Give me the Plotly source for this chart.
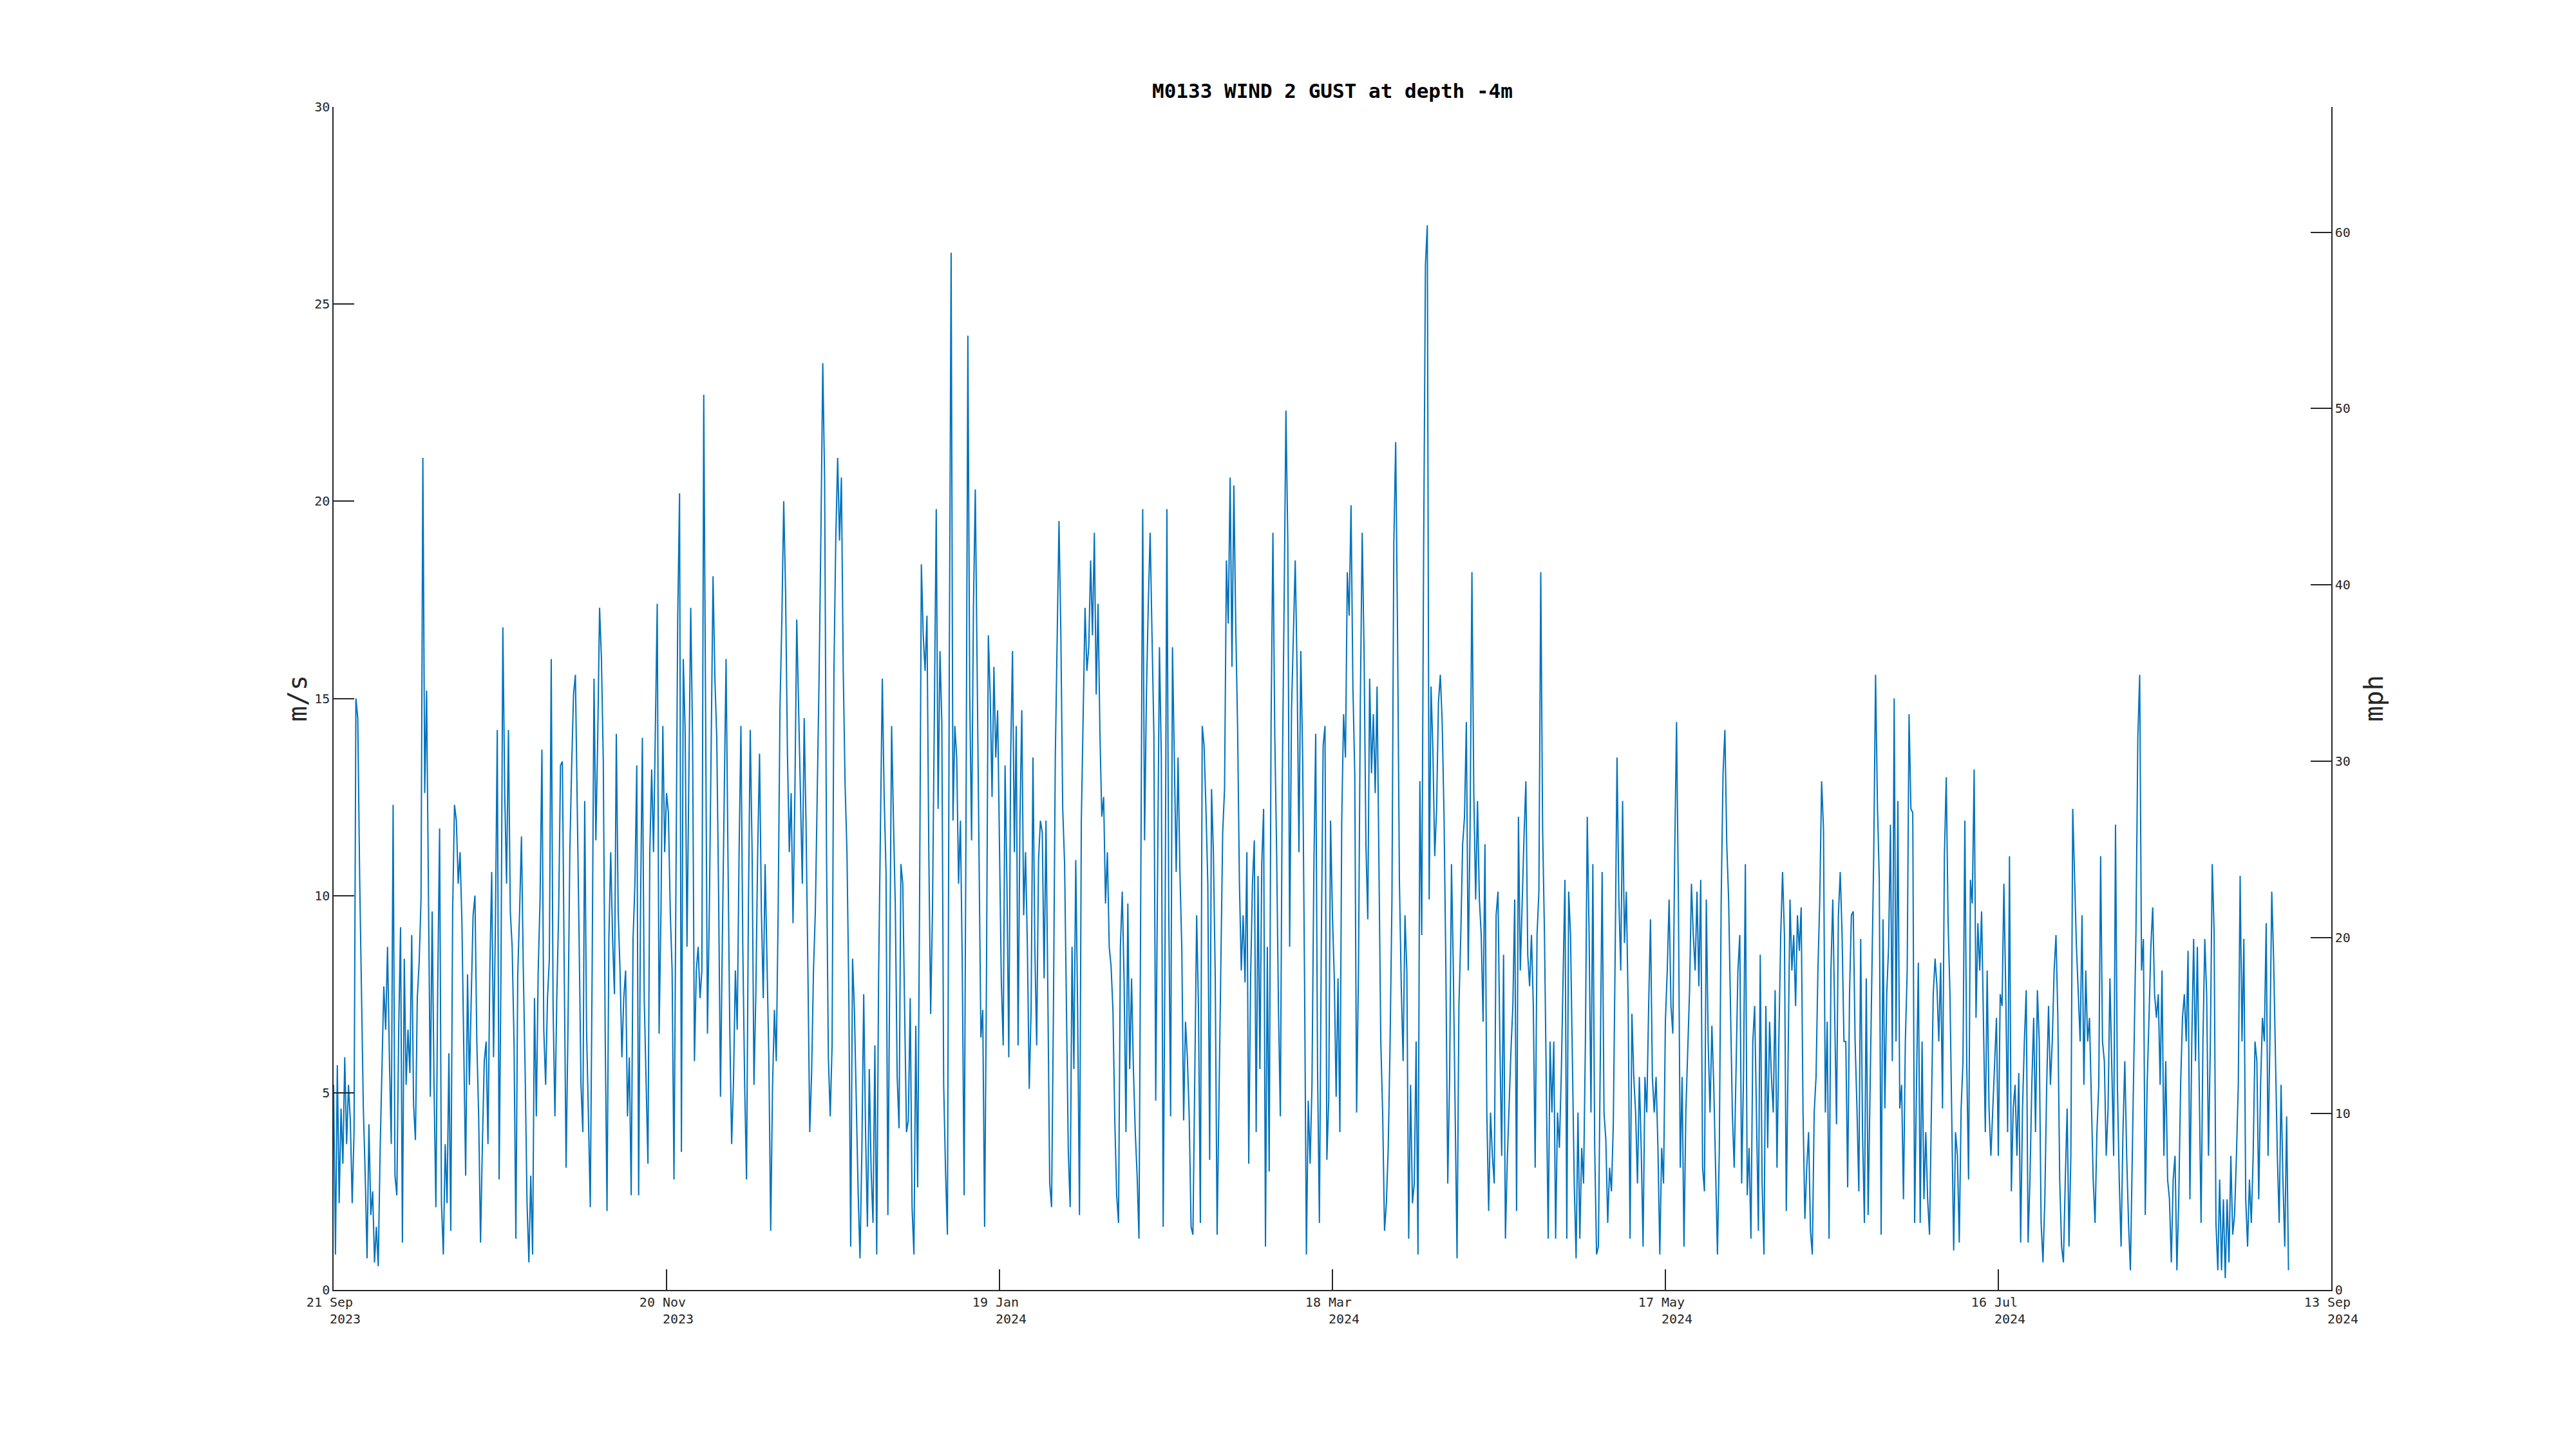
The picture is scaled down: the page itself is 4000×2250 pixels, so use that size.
import pandas as pd
import plotly.graph_objects as go

TITLE = "M0133 WIND 2 GUST at depth -4m"
START = "2023-09-21 16:00"      # first sample (left edge of the axis)
STEP_HOURS = 8                  # sampling step of the values below
AXIS_DAYS = 358                 # 21 Sep 2023 -> 13 Sep 2024
MS_TO_MPH = 2.23694

x_tick_labels = ["21 Sep", "20 Nov", "19 Jan", "18 Mar", "17 May", "16 Jul", "13 Sep"]
x_tick_years = ["2023", "2023", "2024", "2024", "2024", "2024", "2024"]
ms_ticks = [0, 5, 10, 15, 20, 25, 30]
mph_ticks = [0, 10, 20, 30, 40, 50, 60]

# wind gust (m/s), 3 readings per day, 21 Sep -> 19 Dec 2023
gust_autumn = [
    5.2, 0.9, 5.7, 2.2, 4.6, 3.2, 5.9, 3.7, 5.2, 4.3, 2.2, 4.0, 15.0, 14.5, 10.5,
    7.7, 4.6, 2.9, 0.8, 4.2, 1.9, 2.5, 0.7, 1.6, 0.6, 3.5, 5.8, 7.7, 6.6, 8.7,
    5.9, 3.7, 12.3, 2.9, 2.4, 6.6, 9.2, 1.2, 8.4, 5.2, 6.6, 5.5, 9.0, 4.7, 3.8,
    7.4, 8.3, 9.9, 21.1, 12.6, 15.2, 10.2, 4.9, 9.6, 5.2, 2.1, 7.8, 11.7, 2.2, 0.9,
    3.7, 2.2, 6.0, 1.5, 9.6, 12.3, 11.9, 10.3, 11.1, 9.3, 5.9, 2.9, 8.0, 5.2, 7.4,
    9.5, 10.0, 6.3, 4.4, 1.2, 3.7, 5.8, 6.3, 3.7, 8.1, 10.6, 5.9, 9.3, 14.2, 2.8,
    8.1, 16.8, 12.6, 10.3, 14.2, 9.6, 8.7, 6.3, 1.3, 8.0, 9.6, 11.5, 8.1, 5.5, 2.2,
    0.7, 2.9, 0.9, 7.4, 4.4, 8.1, 9.9, 13.7, 6.6, 5.2, 7.4, 8.4, 16.0, 7.2, 4.4,
    7.4, 9.6, 13.3, 13.4, 8.1, 3.1, 6.6, 11.1, 13.3, 15.1, 15.6, 12.6, 8.9, 5.2, 4.0,
    12.4, 6.6, 4.4, 2.1, 8.1, 15.5, 11.4, 14.0, 17.3, 16.0, 13.4, 6.6, 2.0, 8.9, 11.1,
    8.9, 7.5, 14.1, 9.6, 8.1, 5.9, 7.4, 8.1, 4.4, 5.9, 2.4, 8.9, 10.3, 13.3, 2.4,
    9.6, 14.0, 7.4, 5.2, 3.2, 11.1, 13.2, 11.1, 14.0, 17.4, 6.5, 9.6, 14.3, 11.1, 12.6,
    12.1, 9.6, 8.1, 2.8, 10.2, 17.0, 20.2, 3.5, 16.0, 14.2, 8.7, 12.6, 17.3, 14.0, 5.8,
    8.1, 8.7, 7.4, 8.1, 22.7, 15.5, 6.5, 9.6, 14.0, 18.1, 15.5, 14.0, 10.0, 4.9, 8.9,
    12.6, 16.0, 11.1, 6.6, 3.7, 5.3, 8.1, 6.6, 11.1, 14.3, 8.7, 5.2, 2.8, 9.6, 14.2,
    11.1, 5.2, 7.5, 11.1, 13.6, 9.6, 7.4, 10.8, 8.1, 5.9, 1.5, 5.2, 7.1, 5.8, 9.6,
    14.8, 17.0, 20.0, 17.7, 13.6, 11.1, 12.6, 9.3, 12.6, 17.0, 14.8, 12.6, 10.3, 14.5, 11.8,
    8.1, 4.0, 5.5, 8.1, 9.6, 12.3, 15.5, 19.2, 23.5, 20.5, 11.1, 5.9, 4.4, 6.2, 15.7,
]

# 20 Dec 2023 -> 18 Mar 2024
gust_winter = [
    19.1, 21.1, 19.0, 20.6, 15.7, 12.8, 11.1, 7.5, 1.1, 8.4, 7.1, 4.8, 2.5, 0.8, 3.5,
    7.5, 4.0, 1.6, 5.6, 3.0, 1.7, 6.2, 0.9, 7.9, 11.4, 15.5, 12.5, 10.6, 1.9, 9.0,
    14.3, 11.9, 9.7, 5.4, 4.1, 10.8, 10.3, 7.1, 4.0, 4.3, 7.4, 2.1, 0.9, 6.7, 2.6,
    9.5, 18.4, 16.6, 15.7, 17.1, 11.1, 7.0, 9.7, 14.7, 19.8, 12.2, 16.2, 14.4, 5.2, 3.0,
    1.4, 15.7, 26.3, 11.9, 14.3, 13.5, 10.3, 11.9, 8.2, 2.4, 11.9, 24.2, 15.1, 11.4, 17.3,
    20.3, 15.7, 10.3, 6.4, 7.1, 1.6, 7.9, 16.6, 15.1, 12.5, 15.8, 13.5, 14.7, 11.4, 7.8,
    6.2, 13.3, 10.3, 5.9, 13.5, 16.2, 11.1, 14.3, 6.2, 11.9, 14.7, 9.5, 11.1, 8.7, 5.1,
    7.1, 13.5, 8.7, 6.2, 10.9, 11.9, 11.6, 7.9, 11.9, 7.5, 2.7, 2.1, 7.1, 13.5, 16.6,
    19.5, 16.6, 12.2, 10.8, 7.5, 3.5, 2.1, 8.7, 5.6, 10.9, 7.1, 1.9, 11.9, 14.4, 17.3,
    15.7, 16.3, 18.5, 16.6, 19.2, 15.1, 17.4, 14.1, 12.0, 12.5, 9.8, 11.1, 8.7, 8.2, 7.1,
    4.3, 2.4, 1.7, 8.7, 10.1, 7.8, 4.0, 9.8, 5.6, 7.9, 5.6, 4.0, 2.9, 1.3, 10.3,
    19.8, 11.4, 15.1, 17.4, 19.2, 16.6, 14.1, 4.8, 10.9, 16.3, 13.5, 1.6, 8.7, 19.8, 9.7,
    4.4, 16.3, 13.5, 10.6, 13.5, 10.6, 8.7, 4.3, 6.8, 5.9, 4.4, 1.6, 1.4, 5.6, 9.5,
    7.1, 1.7, 14.3, 13.8, 12.2, 10.3, 3.3, 12.7, 11.1, 7.9, 1.4, 4.8, 8.7, 11.6, 12.7,
    18.5, 16.9, 20.6, 15.8, 20.4, 16.9, 14.3, 10.3, 8.1, 9.5, 7.8, 11.1, 3.2, 7.9, 10.3,
    11.4, 4.0, 10.5, 5.6, 10.8, 12.2, 1.1, 8.7, 3.0, 14.3, 19.2, 14.1, 11.1, 7.1, 4.4,
    12.7, 17.3, 22.3, 19.0, 8.7, 14.7, 16.6, 18.5, 15.7, 11.1, 16.2, 13.5, 7.9, 0.9, 4.8,
    3.2, 5.2, 10.6, 14.1, 5.6, 1.7, 8.7, 13.8, 14.3, 3.3, 4.8, 11.9, 9.5, 7.9, 4.9,
]

# 19 Mar 2024 -> 16 Jun 2024
gust_spring = [
    7.9, 4.0, 11.9, 14.6, 13.5, 18.2, 17.1, 19.9, 15.3, 13.1, 4.5, 8.1, 14.9, 19.2, 16.2,
    11.3, 9.4, 15.5, 13.1, 14.6, 12.6, 15.3, 10.8, 6.3, 4.5, 1.5, 2.2, 3.6, 6.3, 9.9,
    18.9, 21.5, 16.7, 10.4, 7.7, 5.8, 9.5, 8.1, 1.3, 5.2, 2.2, 2.7, 6.3, 0.9, 12.9,
    9.0, 18.5, 26.0, 27.0, 9.9, 15.3, 13.7, 11.0, 12.2, 14.9, 15.6, 14.4, 12.0, 8.1, 2.7,
    5.4, 10.8, 8.1, 4.5, 0.8, 7.2, 9.0, 11.3, 12.0, 14.4, 8.1, 11.7, 18.2, 12.6, 9.9,
    12.4, 9.9, 9.0, 6.8, 11.3, 4.5, 2.0, 4.5, 3.4, 2.7, 9.5, 10.1, 6.3, 3.4, 8.5,
    1.3, 3.3, 4.9, 6.1, 7.2, 9.9, 2.0, 12.0, 8.1, 9.9, 11.5, 12.9, 8.5, 7.7, 9.0,
    7.2, 3.1, 9.0, 10.1, 18.2, 11.7, 9.0, 5.1, 1.3, 6.3, 4.5, 6.3, 1.3, 4.5, 3.6,
    5.4, 8.1, 10.4, 1.3, 10.1, 9.0, 5.4, 2.7, 0.8, 4.5, 1.3, 3.6, 2.7, 6.3, 12.0,
    9.0, 4.5, 10.8, 3.6, 0.9, 1.1, 6.3, 10.6, 4.5, 3.8, 1.7, 3.1, 2.5, 4.2, 8.5,
    13.5, 9.9, 8.1, 12.4, 8.8, 10.1, 7.2, 1.3, 7.0, 5.4, 4.5, 2.7, 5.4, 3.6, 1.1,
    5.4, 4.5, 7.2, 9.4, 5.4, 4.5, 5.4, 3.6, 0.9, 3.6, 2.7, 6.8, 8.1, 9.9, 7.2,
    6.5, 11.0, 14.4, 9.9, 3.1, 5.4, 1.1, 4.5, 5.9, 7.6, 10.3, 9.0, 8.1, 10.1, 7.7,
    10.4, 3.1, 2.5, 9.9, 6.3, 4.5, 6.7, 5.2, 2.9, 0.9, 3.6, 9.9, 13.1, 14.2, 11.3,
    9.9, 7.2, 4.5, 3.1, 5.4, 8.1, 9.0, 2.7, 5.4, 10.8, 2.4, 3.6, 1.3, 6.3, 7.2,
    4.5, 1.5, 8.5, 2.7, 0.9, 7.2, 3.6, 6.8, 5.4, 4.5, 7.6, 3.1, 6.3, 9.0, 10.6,
    9.0, 2.0, 6.3, 9.9, 8.1, 9.0, 7.2, 9.5, 8.6, 9.7, 4.5, 1.8, 3.1, 4.0, 1.5,
    0.9, 4.5, 5.4, 8.1, 9.9, 12.9, 11.7, 4.5, 6.8, 1.3, 8.1, 9.9, 7.2, 4.2, 9.5,
]

# 17 Jun 2024 -> 5 Sep 2024
gust_summer = [
    10.6, 9.0, 6.3, 6.3, 2.6, 7.5, 9.5, 9.6, 6.3, 4.6, 2.5, 8.9, 4.0, 1.7, 7.9,
    1.9, 5.2, 8.3, 11.0, 15.6, 12.3, 10.4, 1.4, 9.4, 4.6, 7.5, 8.7, 11.8, 5.8, 15.0,
    6.3, 12.4, 4.6, 5.2, 2.3, 6.3, 8.1, 14.6, 12.2, 12.1, 1.7, 5.2, 8.3, 1.7, 6.3,
    2.3, 4.0, 2.3, 1.4, 4.5, 7.5, 8.4, 7.7, 6.3, 8.3, 4.6, 11.0, 13.0, 9.3, 7.5,
    4.0, 1.0, 4.0, 3.4, 1.2, 4.6, 5.8, 11.9, 5.8, 2.8, 10.4, 9.8, 13.2, 6.9, 9.3,
    8.1, 9.6, 6.9, 4.0, 8.1, 4.6, 3.4, 4.6, 5.8, 6.9, 3.4, 7.5, 7.2, 10.3, 7.5,
    4.0, 11.0, 2.5, 4.6, 5.2, 3.4, 5.5, 1.2, 4.6, 6.3, 7.6, 1.2, 2.8, 5.2, 6.9,
    4.0, 7.6, 6.3, 1.7, 0.7, 2.3, 5.2, 7.2, 5.2, 6.3, 8.1, 9.0, 6.9, 2.8, 1.1,
    0.7, 2.8, 4.6, 1.1, 3.4, 12.2, 10.4, 8.7, 7.5, 6.3, 9.5, 5.2, 8.1, 6.3, 6.9,
    4.6, 2.8, 1.7, 4.0, 5.2, 11.0, 6.3, 5.8, 3.4, 4.6, 7.9, 5.8, 3.4, 11.8, 5.2,
    2.8, 1.1, 4.0, 5.8, 3.4, 1.7, 0.5, 3.4, 6.3, 9.1, 14.0, 15.6, 8.1, 8.9, 1.9,
    5.2, 6.9, 8.7, 9.7, 7.5, 6.9, 7.5, 5.2, 8.1, 3.4, 5.8, 2.8, 2.3, 0.7, 2.8,
    3.4, 0.5, 2.3, 5.2, 6.9, 7.5, 6.3, 8.6, 2.3, 6.3, 8.9, 5.8, 8.7, 5.2, 1.7,
    6.3, 8.9, 7.5, 3.4, 6.3, 10.8, 9.1, 1.7, 0.5, 2.8, 0.5, 2.3, 0.3, 2.3, 0.7,
    3.4, 1.4, 1.9, 3.4, 5.2, 10.5, 6.3, 8.9, 2.3, 1.1, 2.8, 1.7, 3.4, 6.3, 5.8,
    2.3, 5.2, 6.9, 6.3, 9.3, 3.4, 6.3, 10.1, 8.4, 5.8, 3.4, 1.7, 5.2, 2.8, 1.1,
    4.4, 0.5,
]

gust = gust_autumn + gust_winter + gust_spring + gust_summer
t0 = pd.Timestamp(START)
times = pd.date_range(t0, periods=len(gust), freq=f"{STEP_HOURS}h")
t_end = t0 + pd.Timedelta(days=AXIS_DAYS)
n_ticks = len(x_tick_labels)
tick_times = [t0 + pd.Timedelta(days=AXIS_DAYS * k / (n_ticks - 1)) for k in range(n_ticks)]
NB = "\u00a0"
tick_text = [f"{d}{NB}<br>{NB*3}{y}" for d, y in zip(x_tick_labels, x_tick_years)]

AX = "#262626"
FONT = "DejaVu Sans Mono"
OFF = 8  # page body margin of the browser

fig = go.Figure()
fig.add_trace(go.Scatter(x=times, y=gust, mode="lines",
                         line=dict(color="#0072BD", width=2),
                         showlegend=False, hoverinfo="skip"))
fig.add_trace(go.Scatter(x=[t0], y=[None], yaxis="y2", mode="lines",
                         showlegend=False, hoverinfo="skip"))

axis_common = dict(showgrid=False, zeroline=False, showline=True, linecolor=AX,
                   linewidth=1.5, ticks="inside", ticklen=32, tickwidth=1.5,
                   tickcolor=AX, tickfont=dict(family=FONT, size=20, color=AX),
                   automargin=False)

fig.update_layout(
    template="none",
    width=4000, height=2250,
    margin=dict(l=518 - OFF, r=380 + OFF, t=166 - OFF, b=247 + OFF),
    paper_bgcolor="white", plot_bgcolor="white",
    font=dict(family=FONT, color=AX),
    title=dict(text=f"<b>{TITLE}</b>", x=0.5, xref="paper", xanchor="center",
               y=1 - (141 - OFF) / 2250, yref="container", yanchor="middle",
               font=dict(family=FONT, size=31, color="#000000")),
    xaxis=dict(type="date", range=[t0, t_end], tickmode="array",
               tickvals=tick_times, ticktext=tick_text, **axis_common),
    yaxis=dict(range=[0, 30], tickmode="array", tickvals=ms_ticks,
               ticktext=[str(v) for v in ms_ticks], **axis_common),
    yaxis2=dict(range=[0, 30 * MS_TO_MPH], overlaying="y", side="right",
                anchor="x", tickmode="array", tickvals=mph_ticks,
                ticktext=[str(v) for v in mph_ticks], **axis_common),
    annotations=[
        dict(text="m/s", xref="paper", yref="paper", x=(461 - 518) / 3102, y=0.5,
             xanchor="center", yanchor="middle", textangle=-90, showarrow=False,
             font=dict(family=FONT, size=40, color=AX)),
        dict(text="mph", xref="paper", yref="paper", x=(3685 - 518) / 3102, y=0.5,
             xanchor="center", yanchor="middle", textangle=-90, showarrow=False,
             font=dict(family=FONT, size=40, color=AX)),
    ],
)

fig.write_html("out.html")
